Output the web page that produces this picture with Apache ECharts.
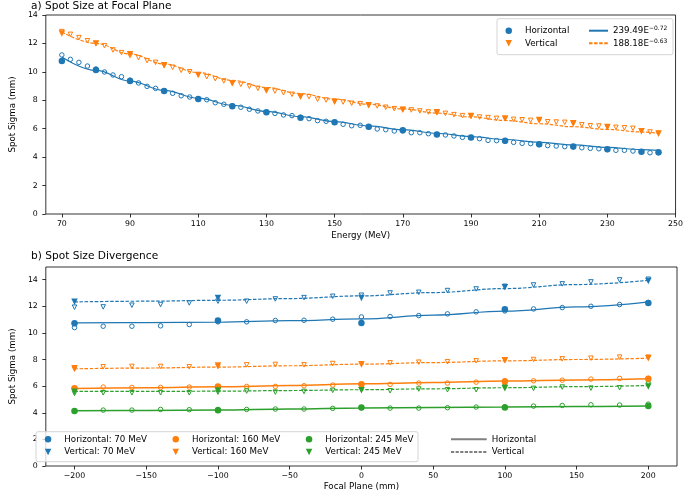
<!DOCTYPE html>
<html>
<head>
<meta charset="utf-8">
<script src="https://cdn.jsdelivr.net/npm/echarts@6/dist/echarts.min.js"></script>
<style>html,body{margin:0;padding:0;background:#fff}#c{width:686px;height:494px}</style>
</head>
<body>
<div id="c"></div>
<script>
// ---------- Panel a) data ----------
const energyCoarse = [70,80,90,100,110,120,130,140,150,160,170,180,190,200,210,220,230,240,245];
const energyFine = [70,72.5,75,77.5,80,82.5,85,87.5,90,92.5,95,97.5,100,102.5,105,107.5,110,112.5,115,117.5,120,122.5,125,127.5,130,132.5,135,137.5,140,142.5,145,147.5,150,152.5,155,157.5,160,162.5,165,167.5,170,172.5,175,177.5,180,182.5,185,187.5,190,192.5,195,197.5,200,202.5,205,207.5,210,212.5,215,217.5,220,222.5,225,227.5,230,232.5,235,237.5,240,242.5,245];
const hMeasured = [10.76,10.13,9.36,8.65,8.09,7.58,7.15,6.78,6.45,6.14,5.89,5.60,5.39,5.16,4.90,4.74,4.55,4.38,4.34];
const vMeasured = [12.69,12.0,11.23,10.46,9.78,9.19,8.68,8.25,7.90,7.65,7.34,7.15,6.89,6.71,6.61,6.38,6.12,5.82,5.65];
const hFine = [11.19,10.88,10.67,10.41,10.2,9.99,9.78,9.66,9.42,9.22,8.98,8.84,8.66,8.49,8.32,8.23,8.1,8.04,7.83,7.72,7.6,7.51,7.37,7.25,7.15,7.08,6.97,6.92,6.8,6.71,6.57,6.52,6.45,6.31,6.21,6.24,6.12,5.98,5.93,5.84,5.85,5.72,5.72,5.65,5.6,5.56,5.49,5.39,5.38,5.30,5.18,5.16,5.12,5.04,4.97,4.95,4.88,4.81,4.78,4.74,4.72,4.66,4.62,4.59,4.54,4.48,4.48,4.43,4.38,4.31,4.31];
const vFine = [12.83,12.64,12.41,12.19,12.0,11.84,11.54,11.35,11.15,11.0,10.79,10.67,10.45,10.32,10.11,10.01,9.8,9.66,9.52,9.36,9.2,9.12,8.98,8.84,8.7,8.65,8.53,8.42,8.28,8.25,8.07,8.02,7.92,7.88,7.79,7.76,7.65,7.60,7.51,7.41,7.35,7.32,7.25,7.18,7.12,7.08,6.99,6.92,6.88,6.82,6.78,6.73,6.7,6.66,6.63,6.59,6.58,6.49,6.47,6.45,6.36,6.28,6.21,6.19,6.12,6.10,6.07,6.03,5.85,5.77,5.70];
const hFitCurve = [11.05,10.1,9.35,8.7,8.15,7.65,7.22,6.85,6.5,6.2,5.93,5.68,5.45,5.24,5.04,4.86,4.69,4.53,4.47];
const vFitCurve = [12.8,12.0,11.25,10.55,9.95,9.4,8.9,8.47,8.08,7.72,7.4,7.1,6.83,6.58,6.35,6.14,5.95,5.77,5.68];
const energyTicks = [70,90,110,130,150,170,190,210,230,250];
const sigmaTicksA = [0,2,4,6,8,10,12,14];

// ---------- Panel b) data ----------
const focalCoarse = [-200,-100,0,100,200];
const focalFine = [-200,-180,-160,-140,-120,-100,-80,-60,-40,-20,0,20,40,60,80,100,120,140,160,180,200];
const focalFit = [-200,-150,-100,-50,0,50,100,150,200];
const h70Fine = [10.4,10.5,10.5,10.53,10.63,10.83,10.83,10.93,10.95,11.03,11.2,11.23,11.3,11.43,11.58,11.65,11.8,11.9,12.0,12.13,12.28];
const h70Coarse = [10.73,10.93,10.75,11.78,12.25];
const h70Fit = [10.75,10.77,10.8,10.92,11.05,11.33,11.63,11.95,12.33];
const v70Fine = [11.93,11.95,12.08,12.13,12.25,12.38,12.38,12.55,12.65,12.75,12.83,13.0,13.05,13.18,13.3,13.5,13.6,13.68,13.83,13.98,14.03];
const v70Coarse = [12.33,12.63,12.63,13.43,13.9];
const v70Fit = [12.33,12.38,12.45,12.58,12.78,13.03,13.33,13.63,13.95];
const h160Fine = [5.83,5.93,5.9,5.9,5.93,5.95,5.98,5.98,6.03,6.08,6.15,6.13,6.23,6.23,6.3,6.4,6.4,6.45,6.53,6.58,6.58];
const h160Coarse = [5.85,5.98,6.15,6.35,6.55];
const h160Fit = [5.83,5.88,5.95,6.05,6.17,6.27,6.38,6.47,6.56];
const v160Fine = [7.28,7.45,7.48,7.48,7.45,7.48,7.6,7.63,7.6,7.7,7.68,7.75,7.8,7.83,7.9,7.95,8.0,8.05,8.1,8.18,8.18];
const v160Coarse = [7.35,7.55,7.63,7.95,8.1];
const v160Fit = [7.3,7.36,7.43,7.53,7.65,7.77,7.9,8.0,8.1];
const h245Fine = [4.15,4.2,4.2,4.25,4.23,4.25,4.25,4.28,4.28,4.33,4.38,4.35,4.35,4.38,4.43,4.45,4.5,4.55,4.6,4.58,4.65];
const h245Coarse = [4.13,4.18,4.4,4.4,4.5];
const h245Fit = [4.15,4.17,4.2,4.28,4.36,4.4,4.43,4.47,4.5];
const v245Fine = [5.45,5.5,5.5,5.5,5.5,5.55,5.63,5.55,5.6,5.68,5.75,5.65,5.78,5.73,5.73,5.95,5.83,5.93,5.85,5.88,6.15];
const v245Coarse = [5.57,5.68,5.7,5.85,5.98];
const v245Fit = [5.6,5.6,5.62,5.67,5.73,5.8,5.88,5.96,6.05];
const focalTicks = [-200,-150,-100,-50,0,50,100,150,200];
const sigmaTicksB = [0,2,4,6,8,10,12,14];

// ---------- styling ----------
const BLUE = '#1f77b4', ORANGE = '#ff7f0e', GREEN = '#2ca02c';
const FONT = 'DejaVu Sans';
const TRI = 'path://M0,0L2,0L1,2Z';
const zip = (xs, ys) => xs.map((x, i) => [x, ys[i]]);

function filled(name, xs, ys, color, sym, gi, size) {
  return { type: 'scatter', name: name, xAxisIndex: gi, yAxisIndex: gi, data: zip(xs, ys),
    symbol: sym, symbolSize: size, itemStyle: { color: color, opacity: 1 }, z: 4, silent: true };
}
function hollow(name, xs, ys, color, sym, gi, size) {
  return { type: 'scatter', name: name, xAxisIndex: gi, yAxisIndex: gi, data: zip(xs, ys),
    symbol: sym, symbolSize: size, itemStyle: { color: 'rgba(0,0,0,0)', borderColor: color, borderWidth: 1, opacity: 1 }, z: 3, silent: true };
}
function fit(name, xs, ys, color, dashed, gi, width) {
  return { type: 'line', name: name, xAxisIndex: gi, yAxisIndex: gi, data: zip(xs, ys),
    symbol: 'none', smooth: 0.4, smoothMonotone: 'x', z: 2, silent: true,
    lineStyle: { color: color, width: width || 1.2, type: dashed ? [3.5, 1.6] : 'solid' },
    itemStyle: { color: color } };
}

function axisCommon(ticks, margin) {
  return {
    axisLine: { show: false, onZero: false },
    axisTick: { show: true, length: 3.5, customValues: ticks, lineStyle: { color: '#000', width: 0.8 } },
    axisLabel: { customValues: ticks, color: '#000', fontFamily: FONT, fontSize: 7.8, margin: margin,
      formatter: v => (v < 0 ? '\u2212' + Math.abs(v) : String(v)) },
    splitLine: { show: false }
  };
}

const series = [
  // panel a
  fit('fitH', energyCoarse, hFitCurve, BLUE, false, 0),
  fit('fitV', energyCoarse, vFitCurve, ORANGE, true, 0),
  hollow('Horizontal ', energyFine, hFine, BLUE, 'circle', 0, 4.5),
  hollow('Vertical ', energyFine, vFine, ORANGE, TRI, 0, 4.5),
  filled('Horizontal', energyCoarse, hMeasured, BLUE, 'circle', 0, 6.5),
  filled('Vertical', energyCoarse, vMeasured, ORANGE, TRI, 0, 6.5),
  // panel b
  fit('h70f', focalFit, h70Fit, BLUE, false, 1),
  fit('v70f', focalFit, v70Fit, BLUE, true, 1),
  fit('h160f', focalFit, h160Fit, ORANGE, false, 1, 1.5),
  fit('v160f', focalFit, v160Fit, ORANGE, true, 1),
  fit('h245f', focalFit, h245Fit, GREEN, false, 1, 1.5),
  fit('v245f', focalFit, v245Fit, GREEN, true, 1),
  hollow('h70o', focalFine, h70Fine, BLUE, 'circle', 1, 4.5),
  hollow('v70o', focalFine, v70Fine, BLUE, TRI, 1, 4.5),
  hollow('h160o', focalFine, h160Fine, ORANGE, 'circle', 1, 4.5),
  hollow('v160o', focalFine, v160Fine, ORANGE, TRI, 1, 4.5),
  hollow('h245o', focalFine, h245Fine, GREEN, 'circle', 1, 4.5),
  hollow('v245o', focalFine, v245Fine, GREEN, TRI, 1, 4.5),
  filled('Horizontal: 70 MeV', focalCoarse, h70Coarse, BLUE, 'circle', 1, 6.5),
  filled('Vertical: 70 MeV', focalCoarse, v70Coarse, BLUE, TRI, 1, 6.5),
  filled('Horizontal: 160 MeV', focalCoarse, h160Coarse, ORANGE, 'circle', 1, 6.5),
  filled('Vertical: 160 MeV', focalCoarse, v160Coarse, ORANGE, TRI, 1, 6.5),
  filled('Horizontal: 245 MeV', focalCoarse, h245Coarse, GREEN, 'circle', 1, 6.5),
  filled('Vertical: 245 MeV', focalCoarse, v245Coarse, GREEN, TRI, 1, 6.5),
  // style-key entries for the line legend (no data)
  { type: 'line', name: 'HorizontalKey', xAxisIndex: 1, yAxisIndex: 1, data: [], symbol: 'none',
    lineStyle: { color: '#808080', width: 1.5 }, itemStyle: { color: '#808080' } },
  { type: 'line', name: 'VerticalKey', xAxisIndex: 1, yAxisIndex: 1, data: [], symbol: 'none',
    lineStyle: { color: '#808080', width: 1.2, type: [3.2, 1.4] }, itemStyle: { color: '#808080' } }
];

const legendText = { color: '#000', fontFamily: FONT, fontSize: 8.7, lineHeight: 10, padding: [0, 0, 0, 8] };
function markerLegend(names, icons, left, top) {
  return { show: true, orient: 'vertical', left: left, top: top, padding: 0, itemGap: 2.6,
    itemWidth: 6.5, itemHeight: 6.5, selectedMode: false, z: 6,
    data: names.map((n, i) => ({ name: n, icon: icons[i] })), textStyle: legendText };
}

const option = {
  animation: false,
  backgroundColor: '#fff',
  title: [
    { text: 'a) Spot Size at Focal Plane', left: 31, top: 1, padding: 0,
      textStyle: { fontFamily: FONT, fontSize: 10.6, fontWeight: 'normal', color: '#000' } },
    { text: 'b) Spot Size Divergence', left: 31, top: 251, padding: 0,
      textStyle: { fontFamily: FONT, fontSize: 10.6, fontWeight: 'normal', color: '#000' } }
  ],
  grid: [
    { left: 32, right: 9, top: 15, height: 199, show: true, borderColor: '#000', borderWidth: 0.8, backgroundColor: 'transparent' },
    { left: 32, right: 9, top: 267, height: 199, show: true, borderColor: '#000', borderWidth: 0.8, backgroundColor: 'transparent' }
  ],
  xAxis: [
    Object.assign({ type: 'value', gridIndex: 0, min: 65.3, max: 250, name: 'Energy (MeV)', nameLocation: 'middle', nameGap: 17,
      nameTextStyle: { fontFamily: FONT, fontSize: 8.7, color: '#000' } }, axisCommon(energyTicks, 6)),
    Object.assign({ type: 'value', gridIndex: 1, min: -220, max: 220, name: 'Focal Plane (mm)', nameLocation: 'middle', nameGap: 16,
      nameTextStyle: { fontFamily: FONT, fontSize: 8.7, color: '#000' } }, axisCommon(focalTicks, 6))
  ],
  yAxis: [
    Object.assign({ type: 'value', gridIndex: 0, min: 0, max: 14, name: 'Spot Sigma (mm)', nameLocation: 'middle', nameGap: 23,
      nameTextStyle: { fontFamily: FONT, fontSize: 8.7, color: '#000' } }, axisCommon(sigmaTicksA, 8)),
    Object.assign({ type: 'value', gridIndex: 1, min: 0, max: 14.95, name: 'Spot Sigma (mm)', nameLocation: 'middle', nameGap: 23,
      nameTextStyle: { fontFamily: FONT, fontSize: 8.7, color: '#000' } }, axisCommon(sigmaTicksB, 8))
  ],
  legend: [
    markerLegend(['Horizontal', 'Vertical'], ['circle', TRI], 505.5, 25.7),
    { show: true, orient: 'vertical', left: 588, top: 25.7, padding: 0, itemGap: 2.6, itemWidth: 19, itemHeight: 10,
      selectedMode: false, z: 6, data: ['fitH', 'fitV'], itemStyle: { opacity: 0 },
      formatter: n => n === 'fitH' ? '{b|239.49E}{s|\u22120.72}' : '{b|188.18E}{s|\u22120.63}',
      textStyle: { color: '#000', fontFamily: FONT, fontSize: 8.7, lineHeight: 10,
        rich: { b: { fontFamily: FONT, fontSize: 8.7, lineHeight: 10, color: '#000' },
                s: { fontFamily: FONT, fontSize: 6, lineHeight: 6, padding: [0, 0, 4, 0], color: '#000' } } } },
    markerLegend(['Horizontal: 70 MeV', 'Vertical: 70 MeV'], ['circle', TRI], 44.8, 434.3),
    markerLegend(['Horizontal: 160 MeV', 'Vertical: 160 MeV'], ['circle', TRI], 172.5, 434.3),
    markerLegend(['Horizontal: 245 MeV', 'Vertical: 245 MeV'], ['circle', TRI], 305.8, 434.3),
    { show: true, orient: 'vertical', left: 450, top: 434.3, padding: 0, itemGap: 2.6, itemWidth: 35.7, itemHeight: 10,
      selectedMode: false, z: 6, data: ['HorizontalKey', 'VerticalKey'], itemStyle: { opacity: 0 },
      formatter: n => n === 'HorizontalKey' ? 'Horizontal' : 'Vertical',
      textStyle: { color: '#000', fontFamily: FONT, fontSize: 8.7, lineHeight: 10 } }
  ],
  graphic: [
    { type: 'rect', z: 5, shape: { x: 497, y: 18.7, width: 176, height: 36, r: 2 },
      style: { fill: 'rgba(255,255,255,0.8)', stroke: '#d4d4d4', lineWidth: 1 } },
    { type: 'rect', z: 5, shape: { x: 36, y: 431.7, width: 382, height: 30, r: 2 },
      style: { fill: 'rgba(255,255,255,0.8)', stroke: '#d4d4d4', lineWidth: 1 } }
  ],
  series: series
};

const chart = echarts.init(document.getElementById('c'), null, { renderer: 'canvas' });
chart.setOption(option);
</script>
</body>
</html>
